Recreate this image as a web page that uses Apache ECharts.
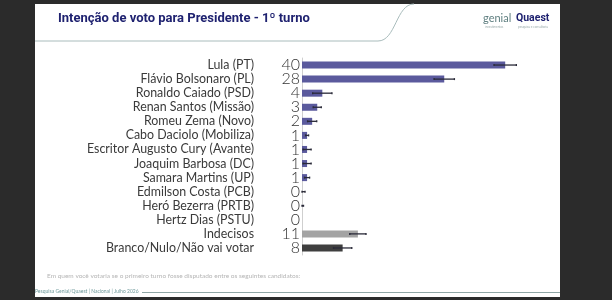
<html>
<head>
    <meta http-equiv="Content-Type" content="text/html; charset=utf-8"/>
    <title>Intenção de voto</title>
    <style type="text/css">
        body, #chart {
            border: 0px;
            margin: 0px;
            padding: 0px;
            width: 612px;
            height: 300px;
        }
    </style>
    <script type="text/javascript" src="https://cdn.jsdelivr.net/npm/echarts@6/dist/echarts.min.js"></script>
</head>
<body>
<div id="chart"></div>
<script type="text/javascript">
    var candidatos = ['Lula (PT)', 'Flávio Bolsonaro (PL)', 'Ronaldo Caiado (PSD)', 'Renan Santos (Missão)',
        'Romeu Zema (Novo)', 'Cabo Daciolo (Mobiliza)', 'Escritor Augusto Cury (Avante)', 'Joaquim Barbosa (DC)',
        'Samara Martins (UP)', 'Edmilson Costa (PCB)', 'Heró Bezerra (PRTB)', 'Hertz Dias (PSTU)',
        'Indecisos', 'Branco/Nulo/Não vai votar'];
    var votos = [40, 28, 4, 3, 2, 1, 1, 1, 1, 0, 0, 0, 11, 8];
    var margem = [2.2, 2, 1.9, 0.8, 0.9, 0.3, 0.8, 0.8, 0.5, 0.6, 0.3, 0, 1.6, 1.8];

    var erros = [];
    for (var i = 0; i < votos.length; i++) {
        erros.push([i, votos[i] - margem[i], votos[i] + margem[i]]);
    }
    var rotulos = votos.map(function (v) { return String(v); });

    var myChart = echarts.init(document.getElementById('chart'));
    var option = {
        backgroundColor: '#2b2b2b',
        animation: false,
        grid: {
            left: 302,
            right: 56,
            top: 58,
            bottom: 45
        },
        xAxis: {
            type: 'value',
            min: 0,
            max: 50,
            show: false
        },
        yAxis: [
            {
                type: 'category',
                inverse: true,
                data: candidatos,
                axisLine: {show: false},
                axisTick: {show: false},
                axisLabel: {
                    interval: 0,
                    margin: 48,
                    fontFamily: 'Lato',
                    fontSize: 12.4,
                    color: '#3a3a3a'
                }
            },
            {
                type: 'category',
                position: 'left',
                inverse: true,
                data: rotulos,
                axisLine: {show: true, lineStyle: {color: '#cfcfcf', width: 1}},
                axisTick: {show: false},
                axisLabel: {
                    interval: 0,
                    margin: 2,
                    fontFamily: 'Lato',
                    fontWeight: 300,
                    fontSize: 16,
                    color: '#333333'
                }
            }
        ],
        graphic: [
            {
                type: 'rect', z: -10,
                shape: {x: 35, y: 4, width: 525, height: 293},
                style: {fill: '#ffffff'}
            },
            {
                type: 'line', z: -5,
                shape: {x1: 35, y1: 41, x2: 378, y2: 41},
                style: {stroke: '#a9bcbc', lineWidth: 1}
            },
            {
                type: 'bezierCurve', z: -5,
                shape: {x1: 378, y1: 41, cpx1: 396, cpy1: 41, cpx2: 396, cpy2: 4, x2: 414, y2: 4},
                style: {fill: null, stroke: '#a9bcbc', lineWidth: 1}
            },
            {
                type: 'text', left: 58, top: 12,
                style: {
                    text: 'Intenção de voto para Presidente - 1º turno',
                    font: 'bold 13px "Liberation Sans Narrow", Roboto, sans-serif',
                    fill: '#1f2270'
                }
            },
            {
                type: 'text', left: 483, top: 13,
                style: {text: 'genial', font: '11px Lato, sans-serif', fill: '#5f7f80'}
            },
            {
                type: 'text', left: 485, top: 26,
                style: {text: 'investimentos', font: '3px sans-serif', fill: '#9aa'}
            },
            {
                type: 'text', left: 516, top: 13,
                style: {text: 'Quaest', font: 'bold 10.5px Roboto, sans-serif', fill: '#1f2270'}
            },
            {
                type: 'text', left: 518, top: 26,
                style: {text: 'pesquisa e consultoria', font: '3px sans-serif', fill: '#9aa'}
            },
            {
                type: 'text', left: 47, top: 272,
                style: {
                    text: 'Em quem você votaria se o primeiro turno fosse disputado entre os seguintes candidatos:',
                    font: '6.5px Lato, sans-serif',
                    fill: '#b5b5b5'
                }
            },
            {
                type: 'text', left: 35, top: 289,
                style: {
                    text: 'Pesquisa Genial/Quaest | Nacional | Julho 2026',
                    font: '5px Lato, sans-serif',
                    fill: '#6f9a9c'
                }
            },
            {
                type: 'line', z: -5,
                shape: {x1: 142, y1: 292.5, x2: 560, y2: 292.5},
                style: {stroke: '#8fa6a6', lineWidth: 1}
            }
        ],
        series: [
            {
                name: 'Votos',
                type: 'bar',
                yAxisIndex: 0,
                barWidth: 7,
                data: votos,
                itemStyle: {
                    color: function (p) {
                        if (p.dataIndex === 12) return '#a3a3a3';
                        if (p.dataIndex === 13) return '#3f3f3f';
                        return '#5b5a9d';
                    }
                }
            },
            {
                name: 'Margem',
                type: 'custom',
                yAxisIndex: 0,
                z: 5,
                data: erros,
                encode: {x: [1, 2], y: 0},
                renderItem: function (params, api) {
                    var idx = api.value(0);
                    if (api.value(2) - api.value(1) <= 0) return;
                    var a = api.coord([Math.max(0, api.value(1)), idx]);
                    var b = api.coord([api.value(2), idx]);
                    var st = {stroke: '#2a2a38', lineWidth: 1.3};
                    return {
                        type: 'group',
                        children: [
                            {type: 'line', shape: {x1: a[0], y1: a[1], x2: b[0], y2: b[1]}, style: st},
                            {type: 'line', shape: {x1: a[0], y1: a[1] - 1, x2: a[0], y2: a[1] + 1}, style: st},
                            {type: 'line', shape: {x1: b[0], y1: b[1] - 1, x2: b[0], y2: b[1] + 1}, style: st}
                        ]
                    };
                }
            }
        ]
    };
    myChart.setOption(option);
</script>
</body>
</html>
